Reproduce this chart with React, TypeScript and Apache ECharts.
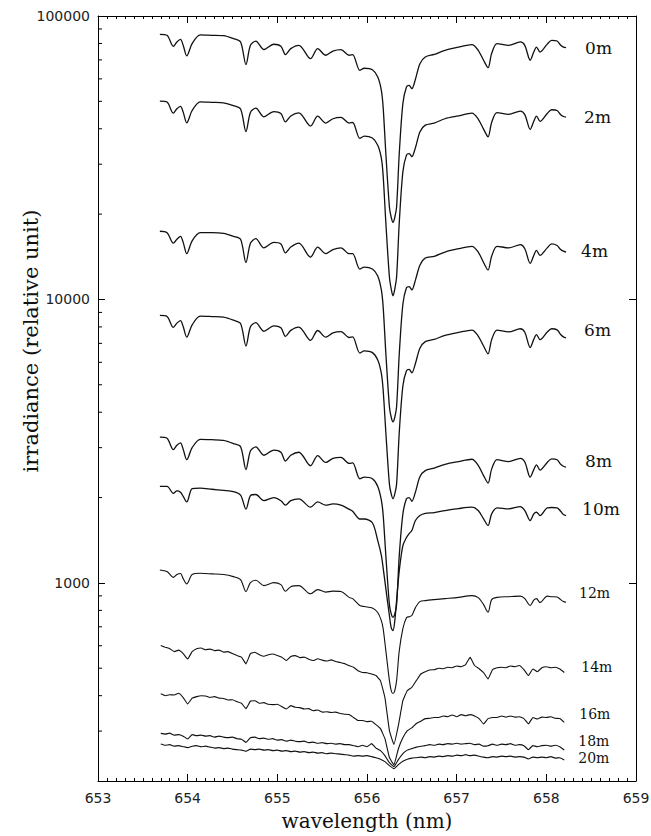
import React, { useEffect, useRef } from 'react';
import * as echarts from 'echarts';

// Wavelength grids (nm)
const wavelengthA = [653.69, 653.77, 653.84, 653.88, 653.92, 653.95, 653.99, 654.05, 654.14, 654.27, 654.40, 654.51, 654.59, 654.65, 654.70, 654.76, 654.85, 654.96, 655.04, 655.09, 655.15, 655.24, 655.37, 655.45, 655.54, 655.62, 655.71, 655.80, 655.84, 655.92, 655.97, 656.06, 656.12, 656.16, 656.18, 656.21, 656.25, 656.27, 656.29, 656.31, 656.33, 656.36, 656.40, 656.44, 656.47, 656.50, 656.54, 656.59, 656.65, 656.75, 656.87, 657.02, 657.17, 657.24, 657.30, 657.35, 657.39, 657.45, 657.58, 657.71, 657.76, 657.82, 657.86, 657.89, 657.93, 658.01, 658.06, 658.12, 658.16, 658.19, 658.22];

const wavelengthB = [653.70, 653.75, 653.80, 653.85, 653.90, 653.95, 654.00, 654.05, 654.10, 654.15, 654.20, 654.25, 654.30, 654.35, 654.40, 654.45, 654.50, 654.55, 654.60, 654.65, 654.70, 654.75, 654.80, 654.85, 654.90, 654.95, 655.00, 655.05, 655.10, 655.15, 655.20, 655.25, 655.30, 655.35, 655.40, 655.45, 655.50, 655.55, 655.60, 655.65, 655.70, 655.75, 655.80, 655.85, 655.90, 655.95, 656.00, 656.05, 656.10, 656.15, 656.20, 656.25, 656.30, 656.35, 656.40, 656.45, 656.50, 656.55, 656.60, 656.65, 656.70, 656.75, 656.80, 656.85, 656.90, 656.95, 657.00, 657.05, 657.10, 657.15, 657.20, 657.25, 657.30, 657.35, 657.40, 657.45, 657.50, 657.55, 657.60, 657.65, 657.70, 657.75, 657.80, 657.85, 657.90, 657.95, 658.00, 658.05, 658.10, 658.15, 658.20];

// Irradiance (relative units) at each depth
const irr0m = [86200, 85500, 78200, 81000, 82700, 78800, 72300, 79900, 85800, 85500, 85200, 83200, 81000, 67400, 78800, 81600, 76100, 79500, 78200, 73100, 76700, 78800, 70700, 76700, 72700, 75200, 76100, 72700, 73100, 64300, 65400, 64600, 60900, 54700, 47700, 32800, 21200, 19500, 18700, 19500, 21200, 32800, 49100, 56200, 56900, 55400, 59800, 67900, 71700, 73200, 75700, 77700, 79300, 75700, 69800, 65700, 73700, 79900, 78800, 81000, 78800, 69800, 74600, 77700, 74600, 79600, 82100, 81600, 78800, 77700, 77300];
const irr2m = [50100, 49700, 45400, 47100, 48000, 45800, 42000, 46400, 49800, 49600, 49400, 48300, 47000, 39100, 45700, 47300, 44100, 46000, 45300, 42300, 44400, 45500, 40900, 44300, 41900, 43400, 43900, 41900, 42100, 37000, 37700, 37100, 35000, 31500, 27400, 18700, 12000, 10900, 10300, 10900, 12000, 18700, 28200, 32300, 32700, 31900, 34300, 39000, 41200, 41900, 43400, 44400, 45400, 43300, 39900, 37500, 42100, 45600, 45000, 46200, 44900, 39800, 42500, 44300, 42500, 45300, 46700, 46400, 44800, 44200, 44000];
const irr4m = [17400, 17200, 15800, 16300, 16700, 15900, 14500, 16100, 17200, 17200, 17100, 16700, 16300, 13500, 15800, 16400, 15200, 15900, 15700, 14600, 15300, 15800, 14100, 15300, 14500, 15000, 15200, 14500, 14500, 12800, 13000, 12800, 12100, 10800, 9430, 6470, 4180, 3840, 3700, 3840, 4180, 6430, 9620, 11000, 11100, 10800, 11700, 13200, 14000, 14200, 14700, 15100, 15400, 14700, 13500, 12700, 14200, 15400, 15200, 15600, 15100, 13400, 14300, 14900, 14300, 15200, 15700, 15500, 15000, 14800, 14700];
const irr6m = [8780, 8710, 7970, 8250, 8420, 8020, 7360, 8130, 8730, 8700, 8660, 8450, 8230, 6850, 8010, 8280, 7720, 8070, 7940, 7410, 7780, 7990, 7170, 7770, 7360, 7620, 7700, 7340, 7380, 6470, 6580, 6490, 6110, 5480, 4800, 3400, 2230, 2060, 1980, 2060, 2230, 3400, 4950, 5600, 5670, 5510, 5940, 6730, 7100, 7230, 7470, 7650, 7800, 7430, 6850, 6430, 7210, 7800, 7680, 7880, 7660, 6770, 7230, 7510, 7210, 7670, 7880, 7810, 7520, 7380, 7320];
const irr8m = [3270, 3240, 2950, 3060, 3120, 2960, 2720, 3000, 3210, 3200, 3180, 3100, 3020, 2510, 2920, 3020, 2820, 2940, 2890, 2690, 2820, 2890, 2590, 2810, 2660, 2750, 2770, 2640, 2650, 2330, 2360, 2330, 2190, 1960, 1740, 1250, 838, 777, 756, 777, 838, 1250, 1750, 1980, 2000, 1940, 2090, 2370, 2490, 2540, 2620, 2680, 2730, 2600, 2390, 2250, 2520, 2720, 2680, 2750, 2670, 2360, 2510, 2610, 2500, 2660, 2740, 2720, 2620, 2580, 2560];
const irr10m = [2190, 2190, 2070, 2110, 2090, 2020, 1930, 2150, 2160, 2140, 2120, 2100, 2040, 1820, 2030, 2050, 1950, 2000, 1950, 1880, 1950, 1980, 1850, 1930, 1880, 1900, 1880, 1820, 1790, 1680, 1680, 1630, 1410, 1250, 1130, 955, 767, 695, 678, 736, 866, 1105, 1354, 1445, 1493, 1530, 1660, 1728, 1760, 1771, 1800, 1829, 1849, 1800, 1682, 1593, 1752, 1840, 1825, 1859, 1800, 1660, 1752, 1775, 1728, 1840, 1845, 1840, 1789, 1742, 1728];
const irr12m = [1111, 1096, 1046, 1070, 1079, 1035, 992, 1070, 1081, 1076, 1070, 1052, 1027, 932, 1002, 1021, 978, 1002, 986, 934, 970, 978, 915, 947, 928, 935, 932, 889, 880, 832, 825, 815, 786, 736, 690, 577, 452, 417, 407, 417, 452, 577, 690, 754, 760, 767, 818, 859, 866, 873, 880, 889, 902, 887, 838, 788, 873, 889, 894, 898, 880, 832, 869, 880, 852, 898, 894, 891, 873, 859, 854];
const irr14m = [601, 593, 586, 572, 579, 563, 539, 572, 586, 589, 581, 584, 577, 579, 570, 572, 563, 554, 547, 518, 563, 569, 558, 551, 558, 561, 554, 547, 532, 550, 554, 545, 547, 538, 532, 540, 534, 530, 535, 528, 524, 519, 511, 504, 490, 483, 482, 477, 471, 452, 394, 301, 269, 314, 384, 417, 428, 452, 477, 486, 493, 494, 500, 498, 504, 502, 509, 506, 515, 546, 511, 498, 482, 458, 494, 502, 504, 502, 509, 506, 511, 494, 471, 497, 486, 502, 506, 502, 504, 497, 483];
const irr16m = [406, 400, 403, 402, 408, 394, 374, 392, 397, 400, 399, 394, 397, 392, 391, 386, 387, 381, 376, 360, 383, 384, 376, 378, 373, 372, 373, 366, 359, 369, 364, 363, 359, 360, 354, 356, 350, 351, 349, 350, 346, 344, 343, 335, 327, 327, 324, 325, 316, 306, 282, 242, 228, 260, 284, 301, 308, 319, 325, 332, 333, 335, 335, 339, 337, 342, 337, 343, 340, 343, 339, 332, 318, 332, 335, 335, 339, 336, 339, 336, 337, 332, 318, 335, 331, 336, 335, 337, 333, 332, 322];
const irr18m = [294.5, 292.6, 295.0, 290.3, 291.4, 287.9, 281.4, 291.4, 289.1, 290.3, 287.9, 289.1, 285.6, 287.9, 285.6, 284.4, 285.6, 282.1, 280.9, 273.7, 284.4, 285.6, 282.1, 283.3, 280.9, 282.1, 278.7, 279.8, 276.4, 278.7, 276.4, 275.3, 276.4, 273.1, 274.2, 271.9, 273.1, 270.9, 271.9, 269.8, 270.9, 268.7, 268.7, 266.5, 264.3, 267.5, 264.3, 270.9, 261.2, 255.9, 245.7, 232.1, 224.7, 237.9, 249.8, 257.0, 260.2, 263.3, 265.4, 266.5, 268.7, 267.5, 269.8, 268.7, 270.9, 269.8, 271.9, 269.8, 270.9, 271.9, 268.7, 269.8, 265.4, 266.5, 269.8, 267.5, 269.8, 268.7, 270.9, 267.5, 268.7, 266.5, 258.0, 266.5, 264.3, 266.5, 267.5, 265.4, 267.5, 264.3, 257.4];
const irr20m = [270.2, 267.5, 268.7, 265.4, 266.5, 264.3, 262.2, 265.4, 266.5, 264.3, 265.4, 263.3, 261.2, 262.2, 260.2, 261.2, 259.1, 258.0, 257.0, 254.5, 259.1, 258.0, 259.1, 257.0, 258.0, 255.9, 257.0, 254.9, 255.9, 253.9, 254.9, 252.8, 253.9, 251.8, 252.8, 250.8, 251.8, 249.7, 250.8, 249.7, 248.8, 247.7, 246.7, 244.7, 245.7, 244.7, 245.7, 243.8, 241.7, 238.8, 234.0, 226.5, 221.1, 228.4, 234.9, 238.8, 240.8, 241.7, 242.8, 241.7, 243.8, 242.8, 244.7, 243.8, 245.7, 244.7, 246.7, 245.7, 247.7, 245.7, 246.7, 244.7, 242.8, 241.7, 243.8, 242.8, 244.7, 243.8, 244.7, 242.8, 243.8, 242.8, 239.2, 242.8, 241.7, 242.8, 241.7, 243.8, 240.8, 241.7, 237.3];

const depthNames = ['0m', '2m', '4m', '6m', '8m', '10m', '12m', '14m', '16m', '18m', '20m'];

// Log-axis minor tick values (2..9 x each decade)
const yMinorTicks = [300, 400, 500, 600, 700, 800, 900, 2000, 3000, 4000, 5000, 6000, 7000, 8000, 9000, 20000, 30000, 40000, 50000, 60000, 70000, 80000, 90000];

// Label placement styling (pixel offsets from line end, font size)
const labelStyles = [
  { dx: 19, dy: 0, size: 17 },
  { dx: 18, dy: 0, size: 17 },
  { dx: 15, dy: -1, size: 17 },
  { dx: 18, dy: -8, size: 17 },
  { dx: 19, dy: -6, size: 17 },
  { dx: 16, dy: -7, size: 17 },
  { dx: 13, dy: -9, size: 14 },
  { dx: 17, dy: -5, size: 14 },
  { dx: 15, dy: -8, size: 14 },
  { dx: 14, dy: -9, size: 14 },
  { dx: 14, dy: -2, size: 14 },
];

const SANS = 'DejaVu Sans';
const SERIF = 'DejaVu Serif';

export default function App() {
  const ref = useRef<HTMLDivElement>(null);

  useEffect(() => {
    if (!ref.current) return;
    const chart = echarts.init(ref.current, null, { renderer: 'svg' });

    const seriesSrc = [
      { x: wavelengthA, y: irr0m },
      { x: wavelengthA, y: irr2m },
      { x: wavelengthA, y: irr4m },
      { x: wavelengthA, y: irr6m },
      { x: wavelengthA, y: irr8m },
      { x: wavelengthA, y: irr10m },
      { x: wavelengthA, y: irr12m },
      { x: wavelengthB, y: irr14m },
      { x: wavelengthB, y: irr16m },
      { x: wavelengthB, y: irr18m },
      { x: wavelengthB, y: irr20m },
    ];

    const lineSeries = seriesSrc.map((s, i) => ({
      type: 'line',
      name: depthNames[i],
      data: s.x.map((x, j) => [x, s.y[j]]),
      showSymbol: false,
      symbol: 'none',
      silent: true,
      smooth: i < 7 ? 0.3 : 0.1,
      lineStyle: { color: '#111', width: i < 6 ? 1.3 : 1.1 },
      endLabel: {
        show: true,
        formatter: depthNames[i],
        distance: 0,
        offset: [labelStyles[i].dx, labelStyles[i].dy],
        fontFamily: SERIF,
        fontSize: labelStyles[i].size,
        color: '#111',
        align: 'left',
        verticalAlign: 'middle',
      },
      z: 3,
    }));

    const isPow10 = (v: number) => {
      const l = Math.log10(v);
      return Math.abs(l - Math.round(l)) < 1e-6;
    };

    const axisLine = { show: true, onZero: false, lineStyle: { color: '#000', width: 1 } };

    chart.setOption({
      animation: false,
      backgroundColor: '#fff',
      grid: { left: 98, right: 15, top: 16, bottom: 55, containLabel: false, outerBoundsMode: 'none' },
      xAxis: [
        {
          type: 'value',
          position: 'bottom',
          min: 653,
          max: 659,
          interval: 1,
          axisLine,
          axisTick: { show: true, inside: true, length: 7, lineStyle: { color: '#000' } },
          minorTick: { show: true, splitNumber: 10, length: 3, lineStyle: { color: '#000' } },
          splitLine: { show: false },
          minorSplitLine: { show: false },
          axisLabel: { margin: 10, fontFamily: SANS, fontSize: 14, color: '#222' },
          name: 'wavelength (nm)',
          nameLocation: 'middle',
          nameGap: 30,
          nameTextStyle: { fontFamily: SERIF, fontSize: 20, color: '#111' },
        },
        {
          type: 'value',
          position: 'top',
          min: 653,
          max: 659,
          interval: 1,
          axisLine,
          axisTick: { show: true, inside: true, length: 7, lineStyle: { color: '#000' } },
          minorTick: { show: true, splitNumber: 10, length: 3, lineStyle: { color: '#000' } },
          splitLine: { show: false },
          minorSplitLine: { show: false },
          axisLabel: { show: false },
        },
      ],
      yAxis: [
        {
          type: 'log',
          logBase: 10,
          position: 'left',
          min: 200,
          max: 100000,
          axisLine,
          axisTick: { show: true, inside: true, length: 7, lineStyle: { color: '#000' } },
          splitLine: { show: false },
          axisLabel: {
            margin: 8,
            fontFamily: SANS,
            fontSize: 14,
            color: '#222',
            formatter: (v: number) => (isPow10(v) ? String(Math.round(v)) : ''),
          },
        },
        {
          type: 'log',
          logBase: 10,
          position: 'right',
          min: 200,
          max: 100000,
          axisLine,
          axisTick: { show: true, inside: true, length: 7, lineStyle: { color: '#000' } },
          splitLine: { show: false },
          axisLabel: { show: false },
        },
      ],
      graphic: [
        {
          type: 'text',
          x: 31,
          y: 341,
          rotation: Math.PI / 2,
          style: {
            text: 'irradiance (relative unit)',
            fontFamily: SERIF,
            fontSize: 21,
            fill: '#111',
            align: 'center',
            verticalAlign: 'middle',
            textAlign: 'center',
            textVerticalAlign: 'middle',
          },
        },
      ],
      series: [
        ...lineSeries,
        {
          type: 'custom',
          coordinateSystem: 'cartesian2d',
          xAxisIndex: 0,
          yAxisIndex: 0,
          silent: true,
          clip: false,
          data: yMinorTicks.map((v) => [653, v]),
          renderItem: (_params: any, api: any) => {
            const p = api.coord([653, api.value(1)]);
            return {
              type: 'line',
              shape: { x1: p[0], y1: p[1], x2: p[0] + 4, y2: p[1] },
              style: { stroke: '#000', lineWidth: 1 },
            };
          },
          z: 4,
        },
      ],
    });

    return () => {
      chart.dispose();
    };
  }, []);

  return (
    <div
      ref={ref}
      style={{ position: 'absolute', left: 0, top: 0, width: 651, height: 836, background: '#fff' }}
    />
  );
}
